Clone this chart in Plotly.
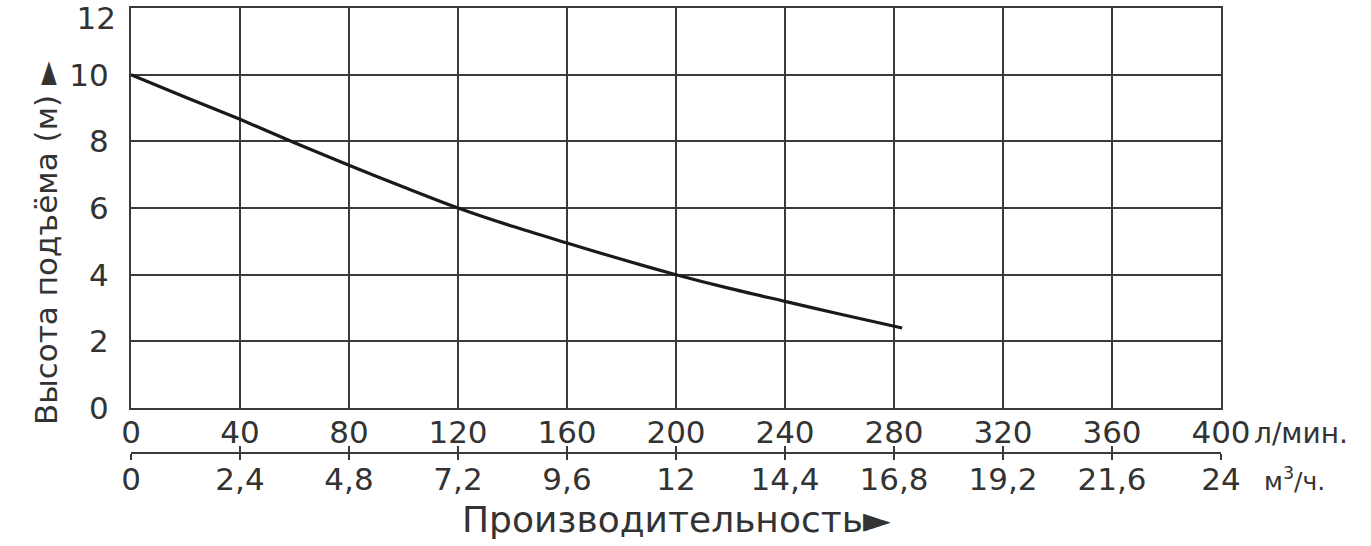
import plotly.graph_objects as go

# Data
flow_lmin = [0, 20, 40, 60, 80, 100, 120, 140, 160, 180, 200, 220, 240, 260, 283]
head_m = [10.0, 9.32, 8.66, 7.96, 7.28, 6.63, 6.0, 5.45, 4.95, 4.46, 4.0, 3.58, 3.2, 2.82, 2.4]

lmin_ticks = [0, 40, 80, 120, 160, 200, 240, 280, 320, 360, 400]
m3_ticks = [0, 2.4, 4.8, 7.2, 9.6, 12, 14.4, 16.8, 19.2, 21.6, 24]
m3_labels = ["0", "2,4", "4,8", "7,2", "9,6", "12", "14,4", "16,8", "19,2", "21,6", "24"]
y_ticks = [0, 2, 4, 6, 8, 10]
y_top_tick = [12]

FONT = "DejaVu Sans"
TXT = "#333333"
GRID = "#3a3a3a"

W, H = 1371, 546
top, bottom_paper = 8, 470
plot_bottom = 408
sec_axis_y = 453
paper_h = bottom_paper - top
ydom0 = (bottom_paper - plot_bottom) / paper_h
sec_pos = (bottom_paper - sec_axis_y) / paper_h
L, R = 131, 1221


def py(pix):
    return (bottom_paper - pix) / paper_h


def px(pix):
    return (pix - L) / (R - L)


fig = go.Figure()
fig.add_trace(go.Scatter(
    x=flow_lmin, y=head_m, mode="lines",
    line=dict(color="#1a1a1a", width=3.2, shape="spline", smoothing=0.8),
    xaxis="x", yaxis="y", showlegend=False, hoverinfo="skip"))
# invisible helper traces so the secondary axes render
for xa, ya in (("x2", "y"), ("x3", "y"), ("x", "y2")):
    fig.add_trace(go.Scatter(x=[0, 0], y=[0, 0], mode="markers", marker=dict(opacity=0),
                             xaxis=xa, yaxis=ya, showlegend=False, hoverinfo="skip"))

tickfont = dict(family=FONT, size=31, color=TXT)

fig.update_layout(
    width=W, height=H,
    margin=dict(l=L, r=W - R, t=top, b=H - bottom_paper, autoexpand=False),
    paper_bgcolor="white", plot_bgcolor="white",
    font=dict(family=FONT, color=TXT, size=30),
    xaxis=dict(range=[0, 400], tickvals=lmin_ticks, showgrid=True, gridcolor=GRID, gridwidth=2,
               showline=True, linecolor=GRID, linewidth=2, mirror=True, zeroline=False,
               ticks="", ticklabelstandoff=-4, anchor="y", tickfont=tickfont, automargin=False),
    yaxis=dict(range=[0, 12], tickvals=y_ticks, domain=[ydom0, 1], showgrid=True,
               gridcolor=GRID, gridwidth=2, showline=True, linecolor=GRID, linewidth=2,
               mirror=True, zeroline=False, ticks="", ticklabelstandoff=14, tickfont=tickfont,
               automargin=False),
    yaxis2=dict(range=[0, 12], tickvals=y_top_tick, domain=[ydom0, 1], overlaying="y",
                side="left", anchor="x", showgrid=False, zeroline=False, showline=False,
                ticks="", ticklabelstandoff=14, ticklabelshift=10, ticklabeloverflow="allow",
                tickfont=tickfont, automargin=False),
    xaxis2=dict(range=[0, 24], tickvals=m3_ticks, ticktext=m3_labels, overlaying="x",
                anchor="free", position=sec_pos, side="bottom", showgrid=False, zeroline=False,
                showline=True, linecolor=GRID, linewidth=2, ticks="inside", ticklen=6,
                tickwidth=2, tickcolor=GRID, ticklabelstandoff=-1, tickfont=tickfont,
                automargin=False),
    xaxis3=dict(range=[0, 24], tickvals=m3_ticks, overlaying="x", anchor="free",
                position=sec_pos, side="bottom", showgrid=False, zeroline=False, showline=False,
                ticks="outside", ticklen=6, tickwidth=2, tickcolor=GRID, showticklabels=False,
                automargin=False),
    annotations=[
        dict(text="Высота подъёма (м) ►", textangle=-90, x=px(46), xref="paper",
             y=py(243), yref="paper", showarrow=False, xanchor="center", yanchor="middle",
             font=dict(family=FONT, size=31, color=TXT)),
        dict(text="Производительность►", x=0.5, xref="paper", y=py(519), yref="paper",
             showarrow=False, xanchor="center", yanchor="middle",
             font=dict(family=FONT, size=36, color=TXT)),
        dict(text="л/мин.", x=px(1252), xref="paper", xanchor="left", y=py(433), yref="paper",
             yanchor="middle", showarrow=False, font=dict(family=FONT, size=28, color=TXT)),
        dict(text="м<sup>3</sup>/ч.", x=px(1262), xref="paper", xanchor="left", y=py(479),
             yref="paper", yanchor="middle", showarrow=False,
             font=dict(family=FONT, size=25, color=TXT)),
    ],
)

fig.write_html("out.html", config={"displayModeBar": False},
               post_script="document.body.style.margin='0';")
